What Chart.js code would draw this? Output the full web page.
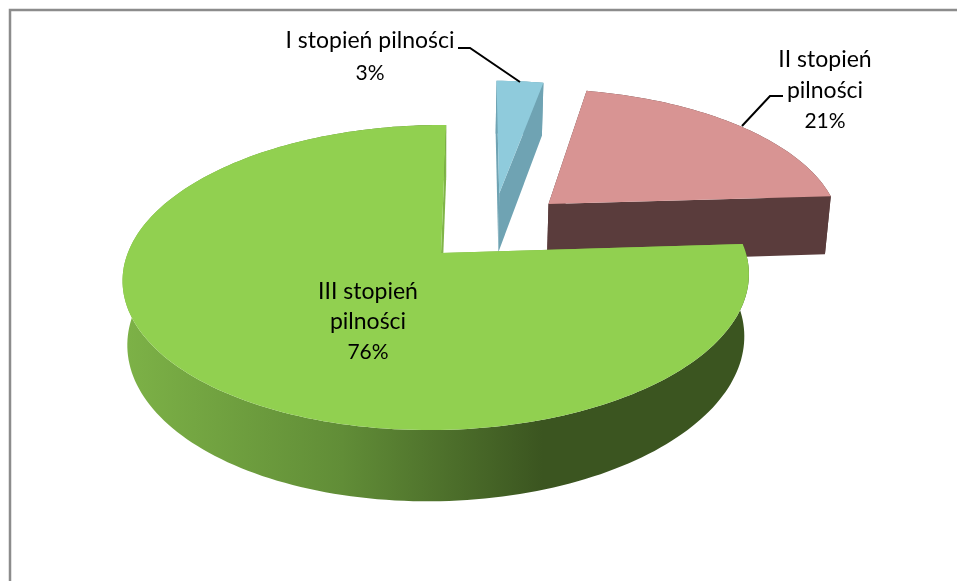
<!DOCTYPE html>
<html>
<head>
<meta charset="utf-8">
<title>Stopień pilności</title>
<script src="https://cdn.jsdelivr.net/npm/chart.js@4"></script>
<style>
  html, body { margin: 0; padding: 0; background: #fff; overflow: hidden; }
  #wrap { position: relative; width: 957px; height: 581px; }
</style>
</head>
<body>
<div id="wrap"><canvas id="pieChart"></canvas></div>
<script>
const categories = ['I stopień pilności', 'II stopień pilności', 'III stopień pilności'];
const values = [3, 21, 76];
const explode = [64, 66, 64];

const topColors = ['#8fcbdc', '#d89493', '#91d050'];
const wallColors = ['#6fa3b3', '#5a3c3c', '#80b548'];

// where the text goes: [center x, first line y, line gap], broken over lines like the original
const labelLines = [['I stopień pilności'], ['II stopień', 'pilności'], ['III stopień', 'pilności']];
const labelSpots = [[370, 41, 32], [825, 60, 30.5], [368, 292, 30]];
const leaders = [
  [[458, 48], [470, 48], [520, 82]],
  [[783, 96], [770, 96], [742, 126]]
];

// tilted view of the pie plane, anchored on the tip of the biggest slice
const view = { x: 441, y: 253, a: 309, b: 148.6, skew: -6, k: 0.1607, m: 0.0135, depth: 62, shrink: 0.985 };

function project(u, v, low) {
  const w = 1 - view.k * v + view.m * u;
  let x = (view.a * u + view.skew * v) / w;
  let y = view.b * v / w;
  if (low) {
    x *= view.shrink;
    y = y * view.shrink + view.depth / w;
  }
  return [view.x + x, view.y + y];
}

function tracePoly(ctx, pts) {
  ctx.beginPath();
  pts.forEach((p, i) => (i ? ctx.lineTo(p[0], p[1]) : ctx.moveTo(p[0], p[1])));
  ctx.closePath();
}

const tiltedPie = {
  id: 'tiltedPie',
  beforeDatasetsDraw(chart) {
    const ctx = chart.ctx;
    const arcs = chart.getDatasetMeta(0).data;
    const big = arcs.length - 1;

    const tip = el => {
      const mid = (el.startAngle + el.endAngle) / 2;
      return [el.x + el.options.offset * Math.cos(mid), el.y + el.options.offset * Math.sin(mid)];
    };
    const anchor = tip(arcs[big]);
    const R = arcs[big].outerRadius;

    const slices = arcs.map(el => {
      const t = tip(el);
      const cu = (t[0] - anchor[0]) / R, cv = (t[1] - anchor[1]) / R;
      const rim = [];
      const steps = Math.max(6, Math.ceil((el.endAngle - el.startAngle) * 40));
      for (let i = 0; i <= steps; i++) {
        const a = el.startAngle + (el.endAngle - el.startAngle) * i / steps;
        rim.push([cu + Math.cos(a), cv + Math.sin(a)]);
      }
      return { cu, cv, rim };
    });

    const greenSide = ctx.createLinearGradient(123, 0, 749, 0);
    greenSide.addColorStop(0, '#7db247');
    greenSide.addColorStop(0.35, '#618d37');
    greenSide.addColorStop(0.67, '#3b5520');
    greenSide.addColorStop(1, '#3b5520');

    ctx.save();
    slices.forEach((s, i) => {
      const up = s.rim.map(p => project(p[0], p[1], false));
      const down = s.rim.map(p => project(p[0], p[1], true));
      const tipUp = project(s.cu, s.cv, false), tipDown = project(s.cu, s.cv, true);
      ctx.fillStyle = i === big ? greenSide : wallColors[i];
      tracePoly(ctx, up.concat(down.slice().reverse()));
      ctx.fill();
      ctx.fillStyle = wallColors[i];
      tracePoly(ctx, [tipUp, up[0], down[0], tipDown]);
      ctx.fill();
      tracePoly(ctx, [tipUp, up[up.length - 1], down[down.length - 1], tipDown]);
      ctx.fill();
      ctx.fillStyle = topColors[i];
      tracePoly(ctx, [tipUp].concat(up));
      ctx.fill();
    });
    ctx.restore();
    return false;
  },
  afterDraw(chart) {
    const ctx = chart.ctx;
    ctx.save();

    // frame, open on the right and at the bottom
    ctx.strokeStyle = '#8c8c8c';
    ctx.lineWidth = 2.5;
    ctx.beginPath();
    ctx.moveTo(10, 581);
    ctx.lineTo(10, 10);
    ctx.lineTo(957, 10);
    ctx.stroke();

    ctx.strokeStyle = '#000';
    ctx.lineWidth = 2;
    leaders.forEach(line => {
      ctx.beginPath();
      line.forEach((p, i) => (i ? ctx.lineTo(p[0], p[1]) : ctx.moveTo(p[0], p[1])));
      ctx.stroke();
    });

    ctx.fillStyle = '#000';
    ctx.textAlign = 'center';
    ctx.textBaseline = 'middle';
    labelLines.forEach((lines, i) => {
      const [x, y, gap] = labelSpots[i];
      ctx.font = '23px Lato';
      lines.forEach((t, n) => ctx.fillText(t, x, y + n * gap));
      ctx.font = '21px Lato';
      ctx.fillText(values[i] + '%', x, y + lines.length * gap);
    });
    ctx.restore();
  }
};

new Chart(document.getElementById('pieChart'), {
  type: 'pie',
  data: {
    labels: categories,
    datasets: [{
      data: values,
      backgroundColor: topColors,
      borderWidth: 0,
      offset: explode
    }]
  },
  options: {
    responsive: true,
    maintainAspectRatio: false,
    animation: false,
    plugins: { legend: { display: false }, tooltip: { enabled: false } }
  },
  plugins: [tiltedPie]
});
</script>
</body>
</html>
